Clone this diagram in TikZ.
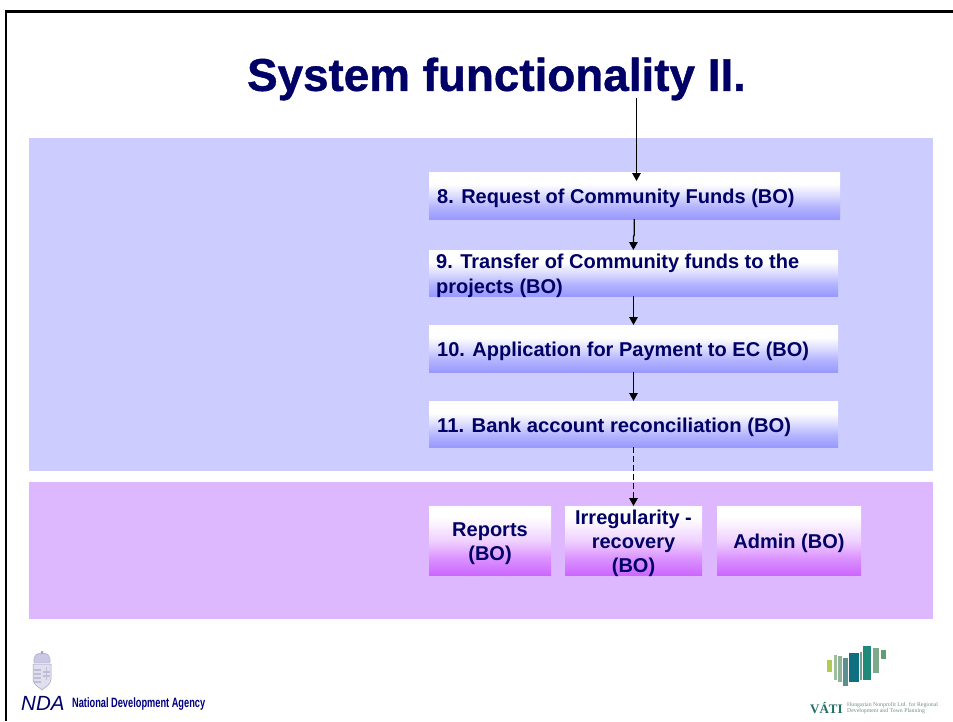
\documentclass[tikz,border=0pt]{standalone}
\usepackage{fontspec}
\setmainfont{Liberation Sans}
\newfontfamily\titlefont[FakeBold=1]{Liberation Sans Bold}
\newfontfamily\vatifont{Liberation Serif}
\usetikzlibrary{arrows.meta}
\definecolor{navy}{HTML}{000066}
\definecolor{bluepanel}{HTML}{CCCCFF}
\definecolor{purplepanel}{HTML}{DDB8FF}
\definecolor{bluebot}{HTML}{9999FF}
\definecolor{purplebot}{HTML}{CC66FF}
\definecolor{vatigreen}{HTML}{1F6F66}
\definecolor{vatigray}{HTML}{6F8F8A}
\definecolor{crest}{HTML}{C9C9E4}
\definecolor{crestdark}{HTML}{A3A3BE}
\pgfdeclareverticalshading{bluegrad}{100bp}{color(0bp)=(bluebot); color(25bp)=(bluebot); color(37.5bp)=(bluebot!75!white); color(50bp)=(bluebot!35!white); color(62bp)=(white); color(100bp)=(white)}
\pgfdeclareverticalshading{purplegrad}{100bp}{color(0bp)=(purplebot); color(25bp)=(purplebot); color(37.5bp)=(purplebot!70!white); color(50bp)=(purplebot!30!white); color(62bp)=(purplebot!8!white); color(68bp)=(white); color(100bp)=(white)}
\tikzset{
  x=1pt,y=-1pt,
  panel/.style={draw=none,inner sep=0pt,outer sep=0pt,anchor=north west},
  bluebox/.style={panel,shading=bluegrad},
  purplebox/.style={panel,shading=purplegrad},
  boxtext/.style={font=\fontsize{20}{24}\selectfont\bfseries,text=navy,inner sep=0pt,align=left},
  boxcentre/.style={boxtext,align=center},
  conn/.style={draw=black,line width=1.3pt,-{Triangle[length=8pt,width=8.5pt]}},
  connd/.style={conn,dash pattern=on 6pt off 3pt},
}
\begin{document}
\begin{tikzpicture}
\useasboundingbox (0,0) rectangle (953,721);
\fill[white] (0,0) rectangle (953,721);
% slide frame
\draw[black,line width=2.6pt] (6,721) -- (6,11.5) -- (953,11.5);
% panels
\node[panel,fill=bluepanel,minimum width=904pt,minimum height=333pt] (pblue) at (29,138) {};
\node[panel,fill=purplepanel,minimum width=904pt,minimum height=137pt] (ppurple) at (29,482) {};
% title
\node[font=\fontsize{45.8}{50}\titlefont,text=navy,inner sep=0pt] (title) at (496.5,79) {System functionality II.};
\coordinate (start) at (636.5,98);
\coordinate (tip8) at (636.5,181);
% boxes
\node[bluebox,minimum width=411pt,minimum height=47pt] (b8) at (429,172) {};
\node[bluebox,minimum width=409pt,minimum height=46pt] (b9) at (429,250) {};
\node[bluebox,minimum width=409pt,minimum height=47pt] (b10) at (429,325) {};
\node[bluebox,minimum width=409pt,minimum height=46pt] (b11) at (429,401) {};
\node[purplebox,minimum width=122pt,minimum height=69pt] (r) at (429,506) {};
\node[purplebox,minimum width=137pt,minimum height=69pt] (i) at (565,506) {};
\node[purplebox,minimum width=144pt,minimum height=69pt] (a) at (717,506) {};
% connectors
\draw[conn] (start) -- (tip8);
\draw[conn] (b8.south -| 634.2,0) -- (634.2,235) -- (633.4,237) -- (b9.north -| 633.4,0);
\draw[conn] (b9.south -| 633.5,0) -- (b10.north -| 633.5,0);
\draw[conn] (b10.south -| 633.5,0) -- (b11.north -| 633.5,0);
\draw[connd] (b11.south -| 633.5,0) -- (i.north -| 633.5,0);
% box texts
\node[boxtext,anchor=west] (t8) at (437,198) {8. Request of Community Funds (BO)};
\node[boxtext,anchor=west,font=\fontsize{20}{25}\selectfont\bfseries] (t9) at (436,276) {9. Transfer of Community funds to the\\projects (BO)};
\node[boxtext,anchor=west] (t10) at (437,351) {10. Application for Payment to EC (BO)};
\node[boxtext,anchor=west,xscale=1.012,transform shape] (t11) at (437,427) {11. Bank account reconciliation (BO)};
\node[boxcentre] (tr) at (490,544) {Reports\\(BO)};
\node[boxcentre] (ti) at (633.5,543) {Irregularity -\\recovery\\(BO)};
\node[boxcentre] (ta) at (789,543) {Admin (BO)};
% NDA logo
\fill[crest!60!white,draw=crestdark,line width=.5pt] (33,664) -- (51,664) -- (51,679) .. controls (51,685) and (45,687) .. (42,690) .. controls (39,687) and (33,685) .. (33,679) -- cycle;
\fill[crestdark!70!white] (34,669) rectangle (41,670.5);
\fill[crestdark!70!white] (34,673) rectangle (41,674.5);
\fill[crestdark!70!white] (34,677) rectangle (41,678.5);
\fill[crestdark!70!white] (34,681) rectangle (41,682.5);
\fill[crestdark!70!white] (45.5,667) rectangle (47,680);
\fill[crestdark!70!white] (43,671) rectangle (49.5,672.5);
\fill[crestdark!70!white] (43,675) rectangle (49.5,676.5);
\fill[crest,draw=crestdark,line width=.4pt] (34,663) .. controls (33,654) and (38,653) .. (42,653) .. controls (46,653) and (51,654) .. (50,663) -- cycle;
\fill[crestdark] (41,650.5) rectangle (43,654);
\node[font=\fontsize{20.5}{21}\selectfont\itshape,text=navy,inner sep=0pt,anchor=west] (nda) at (21,703.5) {NDA};
\node[font=\fontsize{13.5}{14}\selectfont\bfseries,text=navy!85!blue,inner sep=0pt,anchor=west,xscale=.685,transform shape] (ndat) at (72,704) {National Development Agency};
% VATI logo
\fill[fill={rgb,255:red,176;green,204;blue,80}] (827.3,660) rectangle (832.3,672.3);
\fill[fill={rgb,255:red,160;green,190;blue,154}] (834.3,655) rectangle (837.3,680);
\fill[fill={rgb,255:red,143;green,179;blue,154}] (838,656) rectangle (842,682);
\fill[fill={rgb,255:red,92;green,144;blue,144}] (843,658) rectangle (848.3,686);
\fill[fill={rgb,255:red,14;green,111;blue,128}] (849.3,653) rectangle (858.7,682);
\fill[fill={rgb,255:red,111;green,160;blue,144}] (860,652) rectangle (862,680);
\fill[fill={rgb,255:red,31;green,138;blue,120}] (863,646) rectangle (871,680);
\fill[fill={rgb,255:red,127;green,169;blue,138}] (873,648) rectangle (879.3,673);
\fill[fill={rgb,255:red,94;green,158;blue,112}] (881,650) rectangle (886,659);
\node[font=\fontsize{13}{13}\vatifont\bfseries,text=vatigreen,inner sep=0pt,anchor=west] (vati) at (810,708.5) {VÁTI};
\node[font=\fontsize{5.8}{6.3}\vatifont,text=vatigray,inner sep=0pt,anchor=west,align=left] (vatit) at (847,708) {Hungarian Nonprofit Ltd. for Regional\\Development and Town Planning};
\end{tikzpicture}
\end{document}
